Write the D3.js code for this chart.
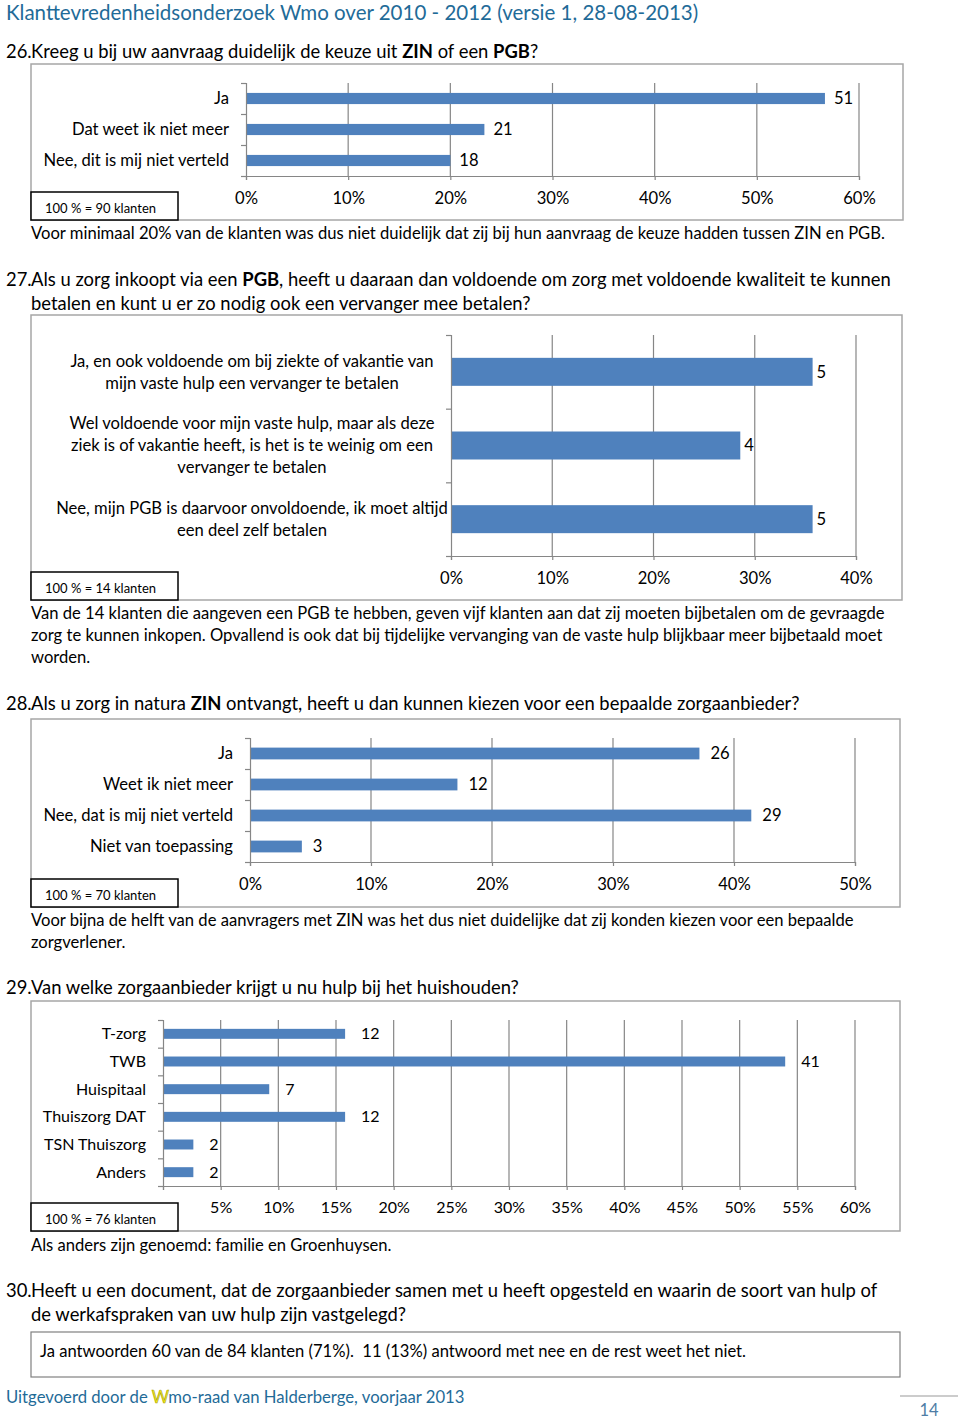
<!DOCTYPE html>
<html><head><meta charset="utf-8">
<script src="https://cdn.jsdelivr.net/npm/d3@7"></script>
<style>
body{margin:0;background:#fff}
svg{display:block}
text{font-family:Lato,"Open Sans",sans-serif}
</style>
</head><body>
<svg id="c" width="960" height="1420"></svg>
<script>
// ---------------- DATA ----------------
const q26Categories = ["Ja", "Dat weet ik niet meer", "Nee, dit is mij niet verteld"];
const q26Counts = [51, 21, 18];
const q26Total = 90;
const q26Ticks = [0, 0.1, 0.2, 0.3, 0.4, 0.5, 0.6];
const q26TickLabels = ["0%", "10%", "20%", "30%", "40%", "50%", "60%"];

const q27Categories = [
  "Ja, en ook voldoende om bij ziekte of vakantie van mijn vaste hulp een vervanger te betalen",
  "Wel voldoende voor mijn vaste hulp, maar als deze ziek is of vakantie heeft, is het is te weinig om een vervanger te betalen",
  "Nee, mijn PGB is daarvoor onvoldoende, ik moet altijd een deel zelf betalen"
];
const q27CategoryLines = [
  ["Ja, en ook voldoende om bij ziekte of vakantie van", "mijn vaste hulp een vervanger te betalen"],
  ["Wel voldoende voor mijn vaste hulp, maar als deze", "ziek is of vakantie heeft, is het is te weinig om een", "vervanger te betalen"],
  ["Nee, mijn PGB is daarvoor onvoldoende, ik moet altijd", "een deel zelf betalen"]
];
const q27Counts = [5, 4, 5];
const q27Total = 14;
const q27Ticks = [0, 0.1, 0.2, 0.3, 0.4];
const q27TickLabels = ["0%", "10%", "20%", "30%", "40%"];

const q28Categories = ["Ja", "Weet ik niet meer", "Nee, dat is mij niet verteld", "Niet van toepassing"];
const q28Counts = [26, 12, 29, 3];
const q28Total = 70;
const q28Ticks = [0, 0.1, 0.2, 0.3, 0.4, 0.5];
const q28TickLabels = ["0%", "10%", "20%", "30%", "40%", "50%"];

const q29Categories = ["T-zorg", "TWB", "Huispitaal", "Thuiszorg DAT", "TSN Thuiszorg", "Anders"];
const q29Counts = [12, 41, 7, 12, 2, 2];
const q29Total = 76;
const q29Ticks = [0, 0.05, 0.1, 0.15, 0.2, 0.25, 0.3, 0.35, 0.4, 0.45, 0.5, 0.55, 0.6];
const q29TickLabels = ["", "5%", "10%", "15%", "20%", "25%", "30%", "35%", "40%", "45%", "50%", "55%", "60%"];

// ---------------- STYLE ----------------
const BAR = "#4F81BD", GRID = "#868686", BOX = "#A6A6A6", TEAL = "#1F6B98";
const BODY = 16.6, QSIZE = 18.4;
const svg = d3.select("#c");

function para(x, y, segs, size, color) {
  const t = svg.append("text").attr("x", x).attr("y", y)
    .attr("font-size", size).attr("fill", color || "#000");
  segs.forEach(s => {
    const isArr = Array.isArray(s);
    t.append("tspan").text(isArr ? s[0] : s)
      .attr("font-weight", isArr && s[1] ? "bold" : null);
  });
  return t;
}

function question(num, y, lines, size) {
  svg.append("text").attr("x", 6).attr("y", y).attr("font-size", size).text(num);
  lines.forEach((segs, i) => para(31, y + i * 24, segs, size));
}

function chart(o) {
  const g = svg.append("g");
  g.append("rect").attr("x", o.box[0]).attr("y", o.box[1]).attr("width", o.box[2]).attr("height", o.box[3])
    .attr("fill", "#fff").attr("stroke", BOX).attr("stroke-width", 1.5);

  const maxT = o.ticks[o.ticks.length - 1];
  const x = d3.scaleLinear().domain([0, maxT]).range([o.x0, o.x1]);
  const y = d3.scaleBand().domain(o.categories).range([o.yTop, o.yBot])
    .paddingInner(o.pad).paddingOuter(o.pad / 2);

  // gridlines
  g.selectAll(".grid").data(o.ticks.filter(t => t > 0)).join("line")
    .attr("x1", d => x(d)).attr("x2", d => x(d)).attr("y1", o.yTop).attr("y2", o.yBot)
    .attr("stroke", GRID).attr("stroke-width", 1.2);

  // bars
  g.selectAll(".bar").data(o.categories).join("rect")
    .attr("x", x(0)).attr("y", d => y(d))
    .attr("width", (d, i) => x(o.counts[i] / o.total) - x(0))
    .attr("height", y.bandwidth()).attr("fill", BAR);

  // x axis
  const xa = g.append("g").attr("transform", `translate(0,${o.yBot})`)
    .call(d3.axisBottom(x).tickValues(o.ticks).tickSize(4).tickSizeOuter(4).tickPadding(12)
      .tickFormat((d, i) => o.tickLabels[i]));
  xa.select(".domain").attr("stroke", GRID).attr("stroke-width", 1.2);
  xa.selectAll(".tick line").attr("stroke", GRID).attr("stroke-width", 1.2);
  xa.selectAll("text").attr("font-size", o.fs).attr("fill", "#000").attr("font-family", null);

  // y axis with ticks at category boundaries
  const n = o.categories.length;
  const yb = d3.scaleLinear().domain([0, n]).range([o.yTop, o.yBot]);
  const ya = g.append("g").attr("transform", `translate(${o.x0},0)`)
    .call(d3.axisLeft(yb).ticks(n).tickSize(5).tickSizeOuter(5).tickFormat(""));
  ya.select(".domain").attr("stroke", GRID).attr("stroke-width", 1.2);
  ya.selectAll(".tick line").attr("stroke", GRID).attr("stroke-width", 1.2);

  // category labels and value labels
  o.categories.forEach((c, i) => {
    const cy = y(c) + y.bandwidth() / 2;
    if (o.lines) {
      const L = o.lines[i];
      const t = g.append("text").attr("x", o.labelX).attr("text-anchor", "middle").attr("font-size", o.fs);
      L.forEach((s, j) => t.append("tspan").attr("x", o.labelX)
        .attr("y", cy + (j - (L.length - 1) / 2) * 22).attr("dy", "0.35em").text(s));
    } else {
      g.append("text").attr("x", o.labelX).attr("y", cy).attr("dy", "0.35em")
        .attr("text-anchor", "end").attr("font-size", o.fs).text(c);
    }
    g.append("text").attr("x", x(o.counts[i] / o.total) + o.valGap).attr("y", cy).attr("dy", "0.35em")
      .attr("font-size", o.fs).text(o.counts[i]);
  });

  // base box
  const by = o.box[1] + o.box[3];
  g.append("rect").attr("x", 31).attr("y", by - 28).attr("width", 147).attr("height", 28)
    .attr("fill", "#fff").attr("stroke", "#000").attr("stroke-width", 1.5);
  g.append("text").attr("x", 45).attr("y", by - 7).attr("font-size", 13).text(`100 % = ${o.total} klanten`);
}

// ---------------- PAGE ----------------
para(6, 20, ["Klanttevredenheidsonderzoek Wmo over 2010 - 2012 (versie 1, 28-08-2013)"], 20.5, TEAL);

question("26.", 58, [["Kreeg u bij uw aanvraag duidelijk de keuze uit ", ["ZIN", 1], " of een ", ["PGB", 1], "?"]], QSIZE);
chart({box: [31, 64, 872, 156], x0: 246, x1: 859, yTop: 83, yBot: 176, pad: 0.64, fs: BODY,
  categories: q26Categories, counts: q26Counts, total: q26Total, ticks: q26Ticks, tickLabels: q26TickLabels,
  labelX: 229, valGap: 9});
para(31, 239, ["Voor minimaal 20% van de klanten was dus niet duidelijk dat zij bij hun aanvraag de keuze hadden tussen ZIN en PGB."], BODY);

question("27.", 286, [
  ["Als u zorg inkoopt via een ", ["PGB", 1], ", heeft u daaraan dan voldoende om zorg met voldoende kwaliteit te kunnen"],
  ["betalen en kunt u er zo nodig ook een vervanger mee betalen?"]], QSIZE);
chart({box: [31, 315, 871, 285], x0: 451, x1: 856, yTop: 335, yBot: 556, pad: 0.62, fs: BODY,
  categories: q27Categories, lines: q27CategoryLines, counts: q27Counts, total: q27Total, ticks: q27Ticks,
  tickLabels: q27TickLabels, labelX: 252, valGap: 4});
para(31, 619, ["Van de 14 klanten die aangeven een PGB te hebben, geven vijf klanten aan dat zij moeten bijbetalen om de gevraagde"], BODY);
para(31, 641, ["zorg te kunnen inkopen. Opvallend is ook dat bij tijdelijke vervanging van de vaste hulp blijkbaar meer bijbetaald moet"], BODY);
para(31, 663, ["worden."], BODY);

question("28.", 710, [["Als u zorg in natura ", ["ZIN", 1], " ontvangt, heeft u dan kunnen kiezen voor een bepaalde zorgaanbieder?"]], QSIZE);
chart({box: [31, 719, 869, 188], x0: 250, x1: 855, yTop: 738, yBot: 862, pad: 0.62, fs: BODY,
  categories: q28Categories, counts: q28Counts, total: q28Total, ticks: q28Ticks, tickLabels: q28TickLabels,
  labelX: 233, valGap: 11});
para(31, 926, ["Voor bijna de helft van de aanvragers met ZIN was het dus niet duidelijke dat zij konden kiezen voor een bepaalde"], BODY);
para(31, 948, ["zorgverlener."], BODY);

question("29.", 994, [["Van welke zorgaanbieder krijgt u nu hulp bij het huishouden?"]], QSIZE);
chart({box: [31, 1001, 869, 230], x0: 163, x1: 855, yTop: 1020, yBot: 1186, pad: 0.64, fs: 16,
  categories: q29Categories, counts: q29Counts, total: q29Total, ticks: q29Ticks, tickLabels: q29TickLabels,
  labelX: 146, valGap: 16});
para(31, 1251, ["Als anders zijn genoemd: familie en Groenhuysen."], BODY);

question("30.", 1297, [
  ["Heeft u een document, dat de zorgaanbieder samen met u heeft opgesteld en waarin de soort van hulp of"],
  ["de werkafspraken van uw hulp zijn vastgelegd?"]], QSIZE);
svg.append("rect").attr("x", 31).attr("y", 1332).attr("width", 869).attr("height", 45)
  .attr("fill", "#fff").attr("stroke", "#808080").attr("stroke-width", 1.2);
para(40, 1357, ["Ja antwoorden 60 van de 84 klanten (71%).  11 (13%) antwoord met nee en de rest weet het niet."], BODY)
  .attr("xml:space", "preserve").style("white-space", "pre");

// footer
const ft = svg.append("text").attr("x", 6).attr("y", 1403).attr("font-size", 16.7).attr("fill", TEAL);
ft.append("tspan").text("Uitgevoerd door de ");
ft.append("tspan").text("W").attr("fill", "#F2EA1A").attr("stroke", "#A89E00").attr("stroke-width", 0.6);
ft.append("tspan").text("mo-raad van Halderberge, voorjaar 2013");
svg.append("line").attr("x1", 900).attr("x2", 958).attr("y1", 1396).attr("y2", 1396).attr("stroke", "#999");
svg.append("text").attr("x", 929).attr("y", 1416).attr("text-anchor", "middle").attr("font-size", 16.5)
  .attr("fill", "#4F7DA6").text("14");
</script>
</body></html>
